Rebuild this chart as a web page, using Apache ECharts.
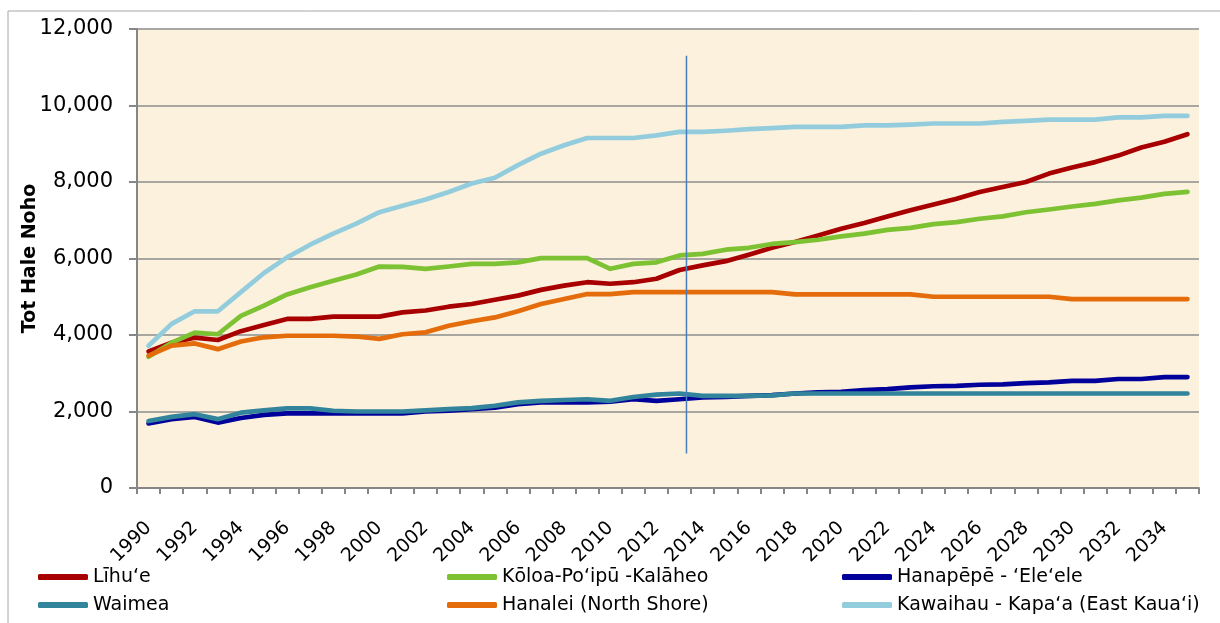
<!DOCTYPE html>
<html>
<head>
<meta charset="utf-8">
<script src="https://cdn.jsdelivr.net/npm/echarts@6/dist/echarts.min.js"></script>
<style>
html,body{margin:0;padding:0;background:#fff;}
#c{width:1220px;height:623px;}
</style>
</head>
<body>
<div id="c"></div>
<script>
const years = ['1990','1991','1992','1993','1994','1995','1996','1997','1998','1999',
  '2000','2001','2002','2003','2004','2005','2006','2007','2008','2009',
  '2010','2011','2012','2013','2014','2015','2016','2017','2018','2019',
  '2020','2021','2022','2023','2024','2025','2026','2027','2028','2029',
  '2030','2031','2032','2033','2034','2035'];

const lihue = [3570,3800,3930,3870,4100,4260,4420,4420,4480,4480,
  4480,4590,4640,4740,4810,4920,5030,5180,5290,5380,
  5340,5380,5470,5700,5820,5930,6100,6280,6430,6600,
  6780,6930,7100,7260,7410,7560,7740,7870,8000,8220,
  8380,8520,8690,8900,9050,9250];

const koloa = [3430,3800,4060,4020,4500,4770,5060,5250,5420,5580,
  5790,5780,5730,5790,5860,5860,5900,6010,6010,6010,
  5730,5860,5900,6080,6120,6230,6280,6380,6430,6490,
  6580,6650,6750,6800,6900,6950,7040,7100,7210,7280,
  7360,7430,7520,7590,7690,7740];

const hanapepe = [1690,1800,1860,1710,1830,1910,1950,1950,1950,1950,
  1950,1950,2000,2020,2060,2100,2190,2240,2240,2240,
  2260,2320,2280,2320,2370,2380,2410,2430,2470,2500,
  2515,2560,2585,2630,2660,2670,2700,2710,2740,2760,
  2800,2800,2850,2850,2900,2900];

const waimea = [1750,1860,1930,1800,1970,2030,2080,2080,2020,2000,
  2000,2000,2030,2060,2090,2150,2240,2280,2300,2320,
  2280,2380,2440,2470,2410,2410,2410,2420,2470,2470,
  2470,2470,2470,2470,2470,2470,2470,2470,2470,2470,
  2470,2470,2470,2470,2470,2470];

const hanalei = [3460,3720,3780,3630,3830,3940,3980,3980,3980,3960,
  3900,4020,4070,4240,4360,4460,4620,4810,4940,5070,
  5070,5120,5120,5120,5120,5120,5120,5120,5060,5060,
  5060,5060,5060,5060,5000,5000,5000,5000,5000,5000,
  4940,4940,4940,4940,4940,4940];

const kawaihau = [3720,4290,4620,4620,5120,5620,6030,6360,6650,6910,
  7210,7380,7540,7740,7960,8110,8440,8740,8960,9150,
  9150,9150,9220,9310,9310,9340,9380,9410,9440,9440,
  9440,9480,9480,9500,9530,9530,9530,9570,9600,9630,
  9630,9630,9690,9690,9730,9730];

const seriesNames = ['Līhu‘e','Kōloa-Po‘ipū -Kalāheo','Hanapēpē - ‘Ele‘ele','Waimea','Hanalei (North Shore)','Kawaihau - Kapa‘a (East Kaua‘i)'];
const seriesColors = ['#A80000','#7DC232','#00009A','#31849B','#E46C0A','#93CDDD'];
const seriesData = [lihue, koloa, hanapepe, waimea, hanalei, kawaihau];

// vertical divider line (position in category-index units, value range)
const dividerX = [23.3, 23.3];
const dividerY = [900, 11300];

const yTicks = [0,2000,4000,6000,8000,10000,12000];

const FONT = 'DejaVu Sans';
const chart = echarts.init(document.getElementById('c'));

const lineSeries = seriesNames.map((n,i)=>({
  name:n, type:'line', data:seriesData[i], symbol:'none', smooth:false,
  lineStyle:{width:4.7, color:seriesColors[i], cap:'round', join:'round'},
  itemStyle:{color:seriesColors[i]},
  z: 3 + i
}));
lineSeries.push({
  name:'divider', type:'line', xAxisIndex:1, symbol:'none', silent:true,
  data: dividerX.map((x,i)=>[x, dividerY[i]]),
  lineStyle:{width:1.5, color:'#4A7EBB'}, z:20
});

// legend grid: 3 columns x 2 rows
const legendCols = [38, 447, 842];
const legendRows = [566, 594];
const legends = seriesNames.map((n,i)=>({
  data:[n], left: legendCols[i%3], top: legendRows[Math.floor(i/3)], padding:0,
  itemWidth:50, itemHeight:6, icon:'roundRect',
  textStyle:{fontFamily:FONT, fontSize:19, color:'#000', lineHeight:22}
}));

chart.setOption({
  animation:false,
  backgroundColor:'#fff',
  graphic:[{type:'rect', shape:{x:8,y:11,width:1260,height:640}, style:{fill:'none', stroke:'#A6A6A6', lineWidth:1}, silent:true, z:-1}],
  grid:{left:137, right:21, top:29, bottom:135, show:true, backgroundColor:'#FCF1DC', borderWidth:0},
  legend: legends,
  xAxis:[{
    type:'category', data:years, boundaryGap:true,
    axisLine:{onZero:false, lineStyle:{color:'#868686', width:2}},
    axisTick:{show:true, interval:0, length:6, lineStyle:{color:'#868686', width:2}},
    axisLabel:{interval:1, rotate:45, fontFamily:FONT, fontSize:19, color:'#000', margin:37},
    splitLine:{show:false}
  },{
    type:'value', min:-0.5, max:years.length-0.5, show:false
  }],
  yAxis:{
    type:'value', min:yTicks[0], max:yTicks[yTicks.length-1], interval:2000,
    name:'Tot Hale Noho', nameLocation:'middle', nameGap:97, nameMoveOverlap:false,
    nameTextStyle:{fontFamily:FONT, fontSize:19, fontWeight:'bold', color:'#000'},
    axisLine:{show:true, onZero:false, lineStyle:{color:'#868686', width:2}},
    axisTick:{show:true, length:8, lineStyle:{color:'#868686', width:2}},
    axisLabel:{fontFamily:FONT, fontSize:21, color:'#000', margin:24,
      formatter:v=>v.toLocaleString('en-US')},
    splitLine:{show:true, lineStyle:{color:'#8C8C8C', width:1.5}}
  },
  series: lineSeries
});
</script>
</body>
</html>
